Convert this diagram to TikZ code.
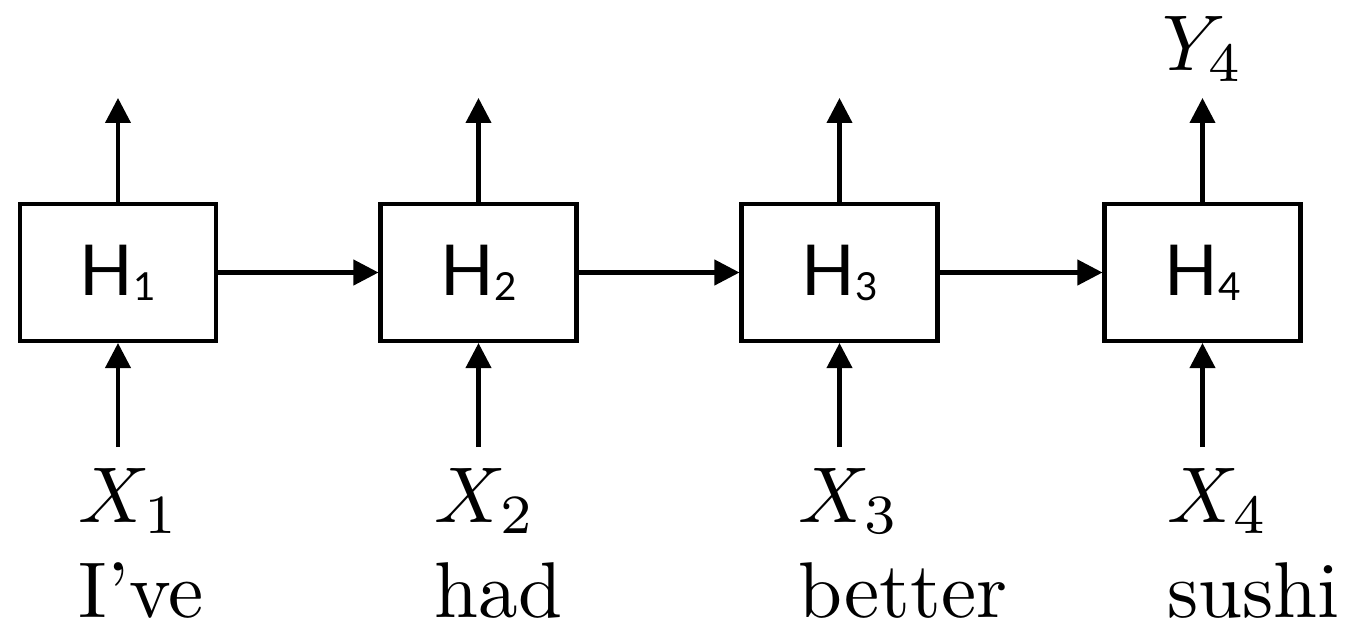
\documentclass[tikz,border=0pt]{standalone}
\usepackage{fontspec}
\newfontfamily\cellfont{Lato}
\usetikzlibrary{arrows.meta,positioning}
\newcommand{\hlab}[1]{H\raisebox{-0.05cm}{\fontsize{11}{13}\selectfont #1}}

\begin{document}
\begin{tikzpicture}[>={Triangle[length=0.25cm,width=0.25cm]},line width=1.15pt,
  cell/.style={draw,minimum width=1.96cm,minimum height=1.37cm,inner sep=0pt,
    font=\cellfont\fontsize{20}{24}\selectfont},
  lab/.style={font=\normalsize,scale=2.25,inner sep=0pt,anchor=base west}]
  \useasboundingbox (0,0) rectangle (13.45,-6.23);

  % hidden cells
  \node[cell] (h1) at (1.18,-2.725) {\hlab{1}};
  \node[cell] (h2) at (4.785,-2.725) {\hlab{2}};
  \node[cell] (h3) at (8.395,-2.725) {\hlab{3}};
  \node[cell] (h4) at (12.025,-2.725) {\hlab{4}};

  % recurrence
  \draw[->] (h1) -- (h2);
  \draw[->] (h2) -- (h3);
  \draw[->] (h3) -- (h4);

  % outputs
  \coordinate (o1) at ([yshift=1.04cm]h1.north);
  \coordinate (o2) at ([yshift=1.04cm]h2.north);
  \coordinate (o3) at ([yshift=1.04cm]h3.north);
  \coordinate (o4) at ([yshift=1.04cm]h4.north);
  \draw[->] (h1.north) -- (o1);
  \draw[->] (h2.north) -- (o2);
  \draw[->] (h3.north) -- (o3);
  \draw[->] (h4.north) -- (o4);
  \node[lab,anchor=base] (y4) at (12.03,-0.70) {$Y_4$};

  % inputs
  \coordinate (i1) at ([yshift=-1.04cm]h1.south);
  \coordinate (i2) at ([yshift=-1.04cm]h2.south);
  \coordinate (i3) at ([yshift=-1.04cm]h3.south);
  \coordinate (i4) at ([yshift=-1.04cm]h4.south);
  \draw[->] (i1) -- (h1.south);
  \draw[->] (i2) -- (h2.south);
  \draw[->] (i3) -- (h3.south);
  \draw[->] (i4) -- (h4.south);

  % input symbols and words
  \node[lab] (x1) at (0.74,-5.22) {$X_1$};
  \node[lab] (x2) at (4.30,-5.22) {$X_2$};
  \node[lab] (x3) at (7.94,-5.22) {$X_3$};
  \node[lab] (x4) at (11.63,-5.22) {$X_4$};
  \node[lab] (w1) at ([yshift=-0.95cm]x1.base west) {I'{}ve};
  \node[lab] (w2) at ([yshift=-0.95cm]x2.base west) {had};
  \node[lab] (w3) at ([yshift=-0.95cm]x3.base west) {better};
  \node[lab] (w4) at ([yshift=-0.95cm]x4.base west) {sushi};
\end{tikzpicture}
\end{document}
